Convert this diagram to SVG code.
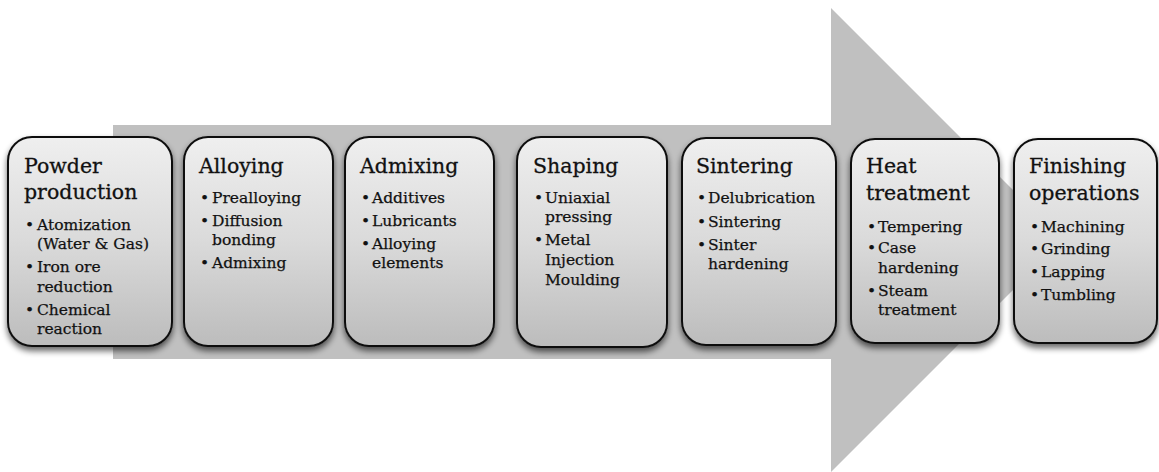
<svg xmlns="http://www.w3.org/2000/svg" width="1159" height="472" viewBox="0 0 1159 472">
  <defs>
    <linearGradient id="boxFill" x1="0" y1="0" x2="0" y2="1">
      <stop offset="0" stop-color="#efefef"/>
      <stop offset="0.5" stop-color="#dadada"/>
      <stop offset="1" stop-color="#bcbcbc"/>
    </linearGradient>
    <filter id="shadow" x="-10%" y="-10%" width="120%" height="125%">
      <feGaussianBlur in="SourceAlpha" stdDeviation="3"/>
      <feOffset dx="0" dy="4" result="blur"/>
      <feComponentTransfer><feFuncA type="linear" slope="0.6"/></feComponentTransfer>
      <feMerge><feMergeNode/><feMergeNode in="SourceGraphic"/></feMerge>
    </filter>
    <style>
      .box { fill: url(#boxFill); stroke: #111; stroke-width: 2; filter: url(#shadow); }
      .title { font-family: "DejaVu Serif", "Liberation Serif", serif; font-size: 20.5px; fill: #111; stroke: #111; stroke-width: 0.3; }
      .item { font-family: "DejaVu Serif", "Liberation Serif", serif; font-size: 15.5px; fill: #111; stroke: #111; stroke-width: 0.25; }
    </style>
  </defs>

  <rect width="1159" height="472" fill="#fff"/>

  <!-- background process arrow -->
  <g id="connectors">
    <polygon points="113,125 831,125 831,8 1063,240 831,472 831,359 113,359" fill="#c0c0c0"/>
  </g>

  <g id="powder-production">
    <rect class="box" x="8" y="137" width="164" height="209" rx="24"/>
    <text class="title" x="24"><tspan x="24" y="173">Powder</tspan><tspan x="24" y="198.5">production</tspan></text>
    <text class="item"><tspan x="25" y="230">•</tspan><tspan x="25" y="272">•</tspan><tspan x="25" y="315">•</tspan></text>
    <text class="item"><tspan x="37" y="230">Atomization</tspan><tspan x="37" y="249">(Water &amp; Gas)</tspan><tspan x="37" y="272">Iron ore</tspan><tspan x="37" y="291.5">reduction</tspan><tspan x="37" y="315">Chemical</tspan><tspan x="37" y="334">reaction</tspan></text>
  </g>

  <g id="alloying">
    <rect class="box" x="184" y="137" width="149" height="209" rx="24"/>
    <text class="title" x="199" y="173">Alloying</text>
    <text class="item"><tspan x="200" y="203">•</tspan><tspan x="200" y="225.5">•</tspan><tspan x="200" y="268">•</tspan></text>
    <text class="item"><tspan x="212" y="203">Prealloying</tspan><tspan x="212" y="225.5">Diffusion</tspan><tspan x="212" y="245">bonding</tspan><tspan x="212" y="268">Admixing</tspan></text>
  </g>

  <g id="admixing">
    <rect class="box" x="345" y="137" width="149" height="209" rx="24"/>
    <text class="title" x="360" y="173">Admixing</text>
    <text class="item"><tspan x="361" y="203">•</tspan><tspan x="361" y="225.5">•</tspan><tspan x="361" y="248.5">•</tspan></text>
    <text class="item"><tspan x="372" y="203">Additives</tspan><tspan x="372" y="225.5">Lubricants</tspan><tspan x="372" y="248.5">Alloying</tspan><tspan x="372" y="267.5">elements</tspan></text>
  </g>

  <g id="shaping">
    <rect class="box" x="517" y="137" width="150" height="210" rx="24"/>
    <text class="title" x="533" y="173">Shaping</text>
    <text class="item"><tspan x="534" y="202.5">•</tspan><tspan x="534" y="245">•</tspan></text>
    <text class="item"><tspan x="545" y="202.5">Uniaxial</tspan><tspan x="545" y="221.5">pressing</tspan><tspan x="545" y="245">Metal</tspan><tspan x="545" y="265">Injection</tspan><tspan x="545" y="285">Moulding</tspan></text>
  </g>

  <g id="sintering">
    <rect class="box" x="682" y="138" width="154" height="207" rx="24"/>
    <text class="title" x="696" y="173">Sintering</text>
    <text class="item"><tspan x="697" y="203">•</tspan><tspan x="697" y="226.5">•</tspan><tspan x="697" y="249.5">•</tspan></text>
    <text class="item"><tspan x="708" y="203">Delubrication</tspan><tspan x="708" y="226.5">Sintering</tspan><tspan x="708" y="249.5">Sinter</tspan><tspan x="708" y="268.5">hardening</tspan></text>
  </g>

  <g id="heat-treatment">
    <rect class="box" x="851" y="139" width="148" height="204" rx="24"/>
    <text class="title"><tspan x="866" y="173">Heat</tspan><tspan x="866" y="200">treatment</tspan></text>
    <text class="item"><tspan x="867" y="231.5">•</tspan><tspan x="867" y="253">•</tspan><tspan x="867" y="296">•</tspan></text>
    <text class="item"><tspan x="878" y="231.5">Tempering</tspan><tspan x="878" y="253">Case</tspan><tspan x="878" y="272.5">hardening</tspan><tspan x="878" y="296">Steam</tspan><tspan x="878" y="315">treatment</tspan></text>
  </g>

  <g id="finishing-operations">
    <rect class="box" x="1014" y="139" width="143" height="204" rx="24"/>
    <text class="title"><tspan x="1029" y="173">Finishing</tspan><tspan x="1029" y="200">operations</tspan></text>
    <text class="item"><tspan x="1030" y="231.5">•</tspan><tspan x="1030" y="254">•</tspan><tspan x="1030" y="277">•</tspan><tspan x="1030" y="300">•</tspan></text>
    <text class="item"><tspan x="1041" y="231.5">Machining</tspan><tspan x="1041" y="254">Grinding</tspan><tspan x="1041" y="277">Lapping</tspan><tspan x="1041" y="300">Tumbling</tspan></text>
  </g>
</svg>
